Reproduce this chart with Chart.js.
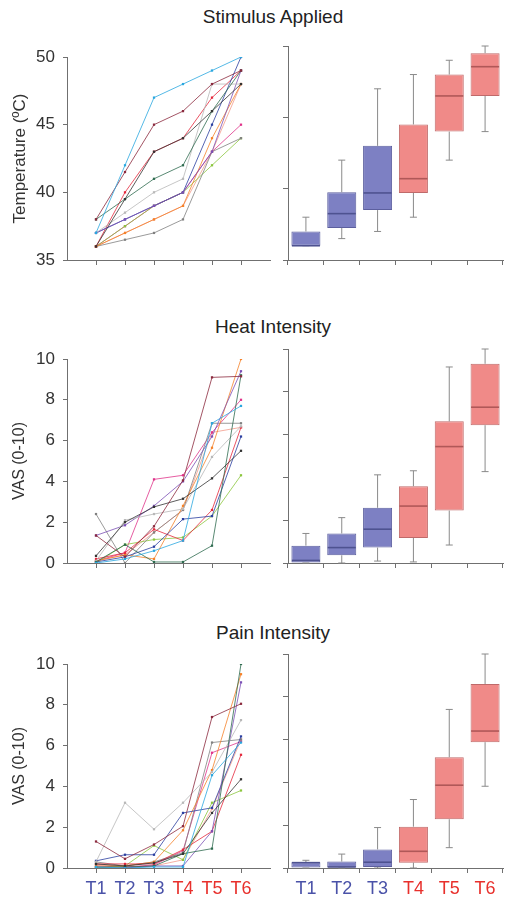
<!DOCTYPE html>
<html>
<head>
<meta charset="utf-8">
<script src="https://cdn.jsdelivr.net/npm/chart.js@4.4.1/dist/chart.umd.min.js"></script>
<style>
  html, body { margin: 0; padding: 0; background: #ffffff; }
  body { width: 512px; height: 906px; position: relative; overflow: hidden; font-family: 'Liberation Sans', Arial, sans-serif; }
  canvas { position: absolute; }
  .rowtitle { position: absolute; left: 0; width: 546px; text-align: center; font-size: 19px; line-height: 19px; color: #222; }
</style>
</head>
<body>
<div class="rowtitle" style="top:7px">Stimulus Applied</div>
<div class="rowtitle" style="top:317px">Heat Intensity</div>
<div class="rowtitle" style="top:623px">Pain Intensity</div>

<canvas id="tl" width="280" height="243" style="left:0px;top:37px"></canvas>
<canvas id="tr" width="234" height="239" style="left:278px;top:36px"></canvas>
<canvas id="ml" width="280" height="244" style="left:0px;top:339px"></canvas>
<canvas id="mr" width="234" height="239" style="left:278px;top:339px"></canvas>
<canvas id="bl" width="280" height="262" style="left:0px;top:644px"></canvas>
<canvas id="br" width="234" height="262" style="left:278px;top:644px"></canvas>

<script>
// ---------------- DATA ----------------
const categories = ['T1', 'T2', 'T3', 'T4', 'T5', 'T6'];
const categoryColors = ['#4a52a8', '#4a52a8', '#4a52a8', '#e8302c', '#e8302c', '#e8302c'];

const subjectColors = ['#2aa7df', '#8b2a3e', '#333333', '#2e6b4f', '#b8b8b8', '#7b4fb5',
                       '#2b3fa0', '#e4283c', '#f5822a', '#808080', '#8cc63e', '#e0338a', '#f29a8a'];

// Temperature (ºC) per subject, T1..T6
const tempSubjects = [
  [37, 42, 47, 48, 49, 50],
  [38, 41.5, 45, 46, 48, 49],
  [36, 39.5, 43, 44, 46, 48],
  [38, 39.5, 41, 42, 46, 49],
  [37, 38.5, 40, 41, 48, 48],
  [37, 38, 39, 40, 43, 49],
  [37, 38, 39, 40, 45, 50],
  [36, 40, 43, 44, 47, 49],
  [36, 37, 38, 39, 44, 48],
  [36, 36.5, 37, 38, 43, 44],
  [36, 37.5, 39, 40, 42, 44],
  [36, 37.5, 39, 40, 43, 45],
  [36, 37, 38, 39, 43, 48]
];

// Heat intensity VAS per subject
const heatSubjects = [
  [0.0, 0.2, 0.6, 1.1, 6.85, 7.7],
  [1.35, 0.3, 1.8, 4.05, 9.1, 9.15],
  [0.35, 2.0, 2.75, 3.15, 4.15, 5.5],
  [0.05, 0.9, 0.05, 0.05, 0.85, 9.2],
  [0.1, 2.1, 2.4, 2.65, 5.2, 6.7],
  [1.35, 1.85, 2.8, 4.0, 6.2, 9.4],
  [0.05, 0.3, 0.8, 2.15, 2.3, 6.2],
  [0.2, 0.5, 1.65, 1.1, 2.6, 6.65],
  [0.1, 0.4, 0.2, 2.8, 5.65, 10.0],
  [2.4, 0.0, 1.5, 2.6, 6.85, 6.85],
  [0.0, 0.9, 1.15, 1.25, 2.3, 4.3],
  [0.1, 0.5, 4.1, 4.3, 6.4, 8.0],
  [0.1, 0.4, 1.5, 2.6, 6.4, 6.65]
];

// Pain intensity VAS per subject
const painSubjects = [
  [0.05, 0.0, 0.05, 0.05, 4.55, 6.15],
  [1.3, 0.45, 1.15, 2.05, 7.4, 8.05],
  [0.2, 0.1, 0.25, 0.7, 2.7, 4.35],
  [0.05, 0.05, 0.1, 0.7, 0.95, 10.0],
  [0.3, 3.2, 1.9, 3.2, 4.7, 7.25],
  [0.0, 0.0, 0.1, 0.1, 1.8, 9.1],
  [0.35, 0.65, 0.65, 2.7, 2.95, 6.45],
  [0.2, 0.2, 0.2, 0.9, 1.8, 5.55],
  [0.1, 0.1, 0.3, 1.85, 4.8, 9.5],
  [0.3, 0.1, 0.3, 0.75, 6.15, 6.3],
  [0.0, 0.1, 1.1, 0.4, 3.2, 3.8],
  [0.1, 0.05, 0.15, 0.85, 5.65, 6.2],
  [0.2, 0.05, 0.1, 0.4, 2.9, 6.3]
];

// Box plot stats per category: [min, q1, median, q3, max]
const tempBoxes = [
  [36, 36, 36, 37, 38],
  [36.5, 37.25, 38.25, 39.75, 42],
  [37, 38.5, 39.7, 43, 47],
  [38, 39.7, 40.7, 44.5, 48],
  [42, 44, 46.5, 48, 49],
  [44, 46.5, 48.55, 49.5, 50]
];
const heatBoxes = [
  [0, 0, 0.12, 0.81, 1.38],
  [0, 0.36, 0.72, 1.38, 2.12],
  [0.09, 0.72, 1.58, 2.58, 4.12],
  [0.05, 1.17, 2.66, 3.59, 4.31],
  [0.84, 2.45, 5.44, 6.62, 9.16],
  [4.27, 6.44, 7.28, 9.31, 10.0]
];
const painBoxes = [
  [0, 0, 0.25, 0.27, 0.36],
  [0, 0, 0.05, 0.3, 0.65],
  [0, 0.05, 0.27, 0.87, 1.89],
  [0, 0.25, 0.78, 1.93, 3.2],
  [0.95, 2.28, 3.87, 5.18, 7.41],
  [3.82, 5.88, 6.4, 8.6, 10.0]
];

const boxFill = ['#7d80c3', '#7d80c3', '#7d80c3', '#f08a88', '#f08a88', '#f08a88'];
const boxBorder = ['#5c5f9e', '#5c5f9e', '#5c5f9e', '#bf6a6a', '#bf6a6a', '#bf6a6a'];
const boxMedian = ['#4e5290', '#4e5290', '#4e5290', '#b05858', '#b05858', '#b05858'];

// ---------------- CHARTS ----------------
Chart.defaults.font.family = "'Liberation Sans', Arial, sans-serif";
Chart.defaults.color = '#333';
const AXIS = '#707070';

function leftChart(id, subjects, yMin, yMax, step, yTitle, titleSize, showLabels, padTop, xH) {
  const datasets = subjects.map((vals, s) => ({
    data: vals.map((v, i) => ({ x: i + 1, y: v })),
    borderColor: subjectColors[s],
    backgroundColor: subjectColors[s],
    borderWidth: 0.8,
    pointRadius: 1.6,
    pointStyle: 'rect',
    pointBorderWidth: 0,
    tension: 0
  }));
  return new Chart(document.getElementById(id), {
    type: 'line',
    data: { datasets },
    options: {
      responsive: false, animation: false, devicePixelRatio: 1,
      layout: { padding: { top: padTop, right: 10, left: 0, bottom: 0 } },
      plugins: { legend: { display: false }, tooltip: { enabled: false } },
      scales: {
        x: {
          type: 'linear', min: 0, max: 7,
          afterBuildTicks: sc => { sc.ticks = categories.map((c, i) => ({ value: i + 1 })); },
          afterFit: sc => { sc.height = xH; },
          ticks: {
            autoSkip: false, maxRotation: 0, padding: 5,
            font: { size: 18 },
            color: ctx => categoryColors[ctx.index],
            callback: (v) => showLabels ? categories[Math.round(v) - 1] : ''
          },
          grid: { drawOnChartArea: false, drawTicks: true, tickLength: 5, color: AXIS },
          border: { display: true, color: AXIS, width: 1 }
        },
        y: {
          min: yMin, max: yMax,
          afterFit: sc => { sc.width = 67; },
          ticks: { stepSize: step, padding: 8, font: { size: 17 }, color: '#333' },
          grid: { drawOnChartArea: false, drawTicks: true, tickLength: 4, color: AXIS },
          border: { display: true, color: AXIS, width: 1 },
          title: { display: true, text: yTitle, font: { size: titleSize }, color: '#333', padding: { top: 10, bottom: 0 } }
        }
      }
    }
  });
}

const whiskerPlugin = {
  id: 'whiskers',
  afterDatasetsDraw(chart) {
    const stats = chart.options.plugins.whiskers.stats;
    const meta = chart.getDatasetMeta(0);
    const y = chart.scales.y;
    const ctx = chart.ctx;
    ctx.save();
    meta.data.forEach((bar, i) => {
      const [mn, q1, md, q3, mx] = stats[i];
      const x = bar.x;
      const half = bar.width / 2;
      ctx.strokeStyle = '#8a8a8a';
      ctx.lineWidth = 1;
      ctx.beginPath();
      ctx.moveTo(x, y.getPixelForValue(q3)); ctx.lineTo(x, y.getPixelForValue(mx));
      ctx.moveTo(x - 3.5, y.getPixelForValue(mx)); ctx.lineTo(x + 3.5, y.getPixelForValue(mx));
      ctx.moveTo(x, y.getPixelForValue(q1)); ctx.lineTo(x, y.getPixelForValue(mn));
      ctx.moveTo(x - 3.5, y.getPixelForValue(mn)); ctx.lineTo(x + 3.5, y.getPixelForValue(mn));
      ctx.stroke();
      ctx.strokeStyle = boxMedian[i];
      ctx.lineWidth = 1.6;
      ctx.beginPath();
      const my = y.getPixelForValue(md);
      ctx.moveTo(x - half + 0.5, my); ctx.lineTo(x + half - 0.5, my);
      ctx.stroke();
    });
    ctx.restore();
  }
};

function rightChart(id, stats, yMin, yMax, step, showLabels, xH) {
  return new Chart(document.getElementById(id), {
    type: 'bar',
    data: {
      labels: categories,
      datasets: [{
        data: stats.map(s => [s[1], s[3]]),
        backgroundColor: boxFill,
        borderColor: boxBorder,
        borderWidth: 1,
        borderSkipped: false,
        barPercentage: 0.81,
        categoryPercentage: 1
      }]
    },
    options: {
      responsive: false, animation: false, devicePixelRatio: 1,
      layout: { padding: { top: 10, right: 9, left: 0, bottom: 0 } },
      plugins: { legend: { display: false }, tooltip: { enabled: false }, whiskers: { stats } },
      scales: {
        x: {
          type: 'category', offset: true,
          afterFit: sc => { sc.height = xH; },
          ticks: {
            autoSkip: false, maxRotation: 0, padding: 5,
            font: { size: 18 },
            color: ctx => categoryColors[ctx.index],
            callback: (v, i) => showLabels ? categories[i] : ''
          },
          grid: { offset: true, drawOnChartArea: false, drawTicks: true, tickLength: 5, color: AXIS },
          border: { display: true, color: AXIS, width: 1 }
        },
        y: {
          min: yMin, max: yMax,
          afterFit: sc => { sc.width = 10; },
          ticks: { stepSize: step, callback: () => '', padding: 0 },
          grid: { drawOnChartArea: false, drawTicks: true, tickLength: 5, color: AXIS },
          border: { display: true, color: AXIS, width: 1 }
        }
      }
    },
    plugins: [whiskerPlugin]
  });
}

leftChart('tl', tempSubjects, 35, 50, 5, 'Temperature (ºC)', 17, false, 20, 20);
leftChart('ml', heatSubjects, 0, 10, 2, 'VAS (0-10)', 16, false, 20, 20);
leftChart('bl', painSubjects, 0, 10, 2, 'VAS (0-10)', 16, true, 20, 38);

rightChart('tr', tempBoxes, 35, 50, 5, false, 15);
rightChart('mr', heatBoxes, 0, 10, 2, false, 15);
rightChart('br', painBoxes, 0, 10, 2, true, 38);
</script>
</body>
</html>
